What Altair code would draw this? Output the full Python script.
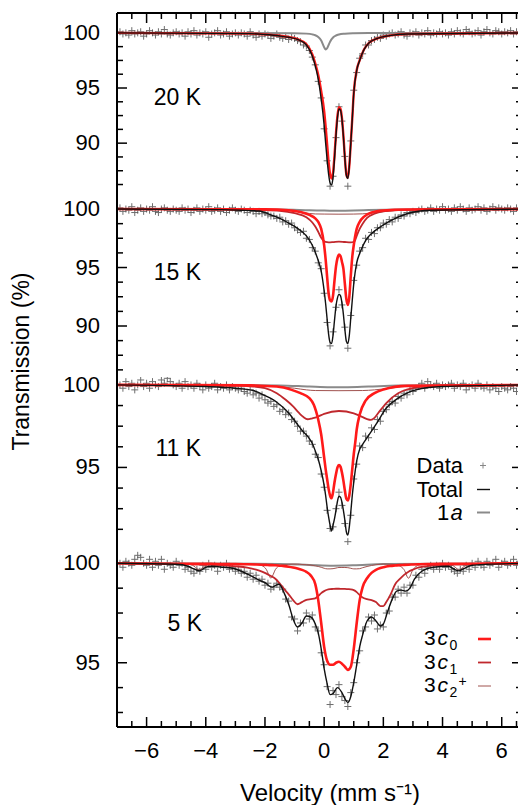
import altair as alt
import pandas as pd

FONT = "Liberation Sans"
W = 401
XDOM = [-7, 6.55]

# ---------------- data ----------------
DATA_V = [-6.9, -6.8, -6.7, -6.6, -6.5, -6.4, -6.3, -6.2, -6.1, -6.0,
          -5.9, -5.8, -5.7, -5.6, -5.5, -5.4, -5.3, -5.2, -5.1, -5.0,
          -4.9, -4.8, -4.7, -4.6, -4.5, -4.4, -4.3, -4.2, -4.1, -4.0,
          -3.9, -3.8, -3.7, -3.6, -3.5, -3.4, -3.3, -3.2, -3.1, -3.0,
          -2.9, -2.8, -2.7, -2.6, -2.5, -2.4, -2.3, -2.2, -2.1, -2.0,
          -1.9, -1.8, -1.7, -1.6, -1.5, -1.4, -1.3, -1.2, -1.1, -1.0,
          -0.9, -0.8, -0.7, -0.6, -0.5, -0.4, -0.3, -0.2, -0.1, 0.0,
          0.1, 0.2, 0.3, 0.4, 0.5, 0.6, 0.7, 0.8, 0.9,
          1.0, 1.1, 1.2, 1.3, 1.4, 1.5, 1.6, 1.7, 1.8, 1.9, 2.0,
          2.1, 2.2, 2.3, 2.4, 2.5, 2.6, 2.7, 2.8, 2.9, 3.0,
          3.1, 3.2, 3.3, 3.4, 3.5, 3.6, 3.7, 3.8, 3.9, 4.0,
          4.1, 4.2, 4.3, 4.4, 4.5, 4.6, 4.7, 4.8, 4.9, 5.0,
          5.1, 5.2, 5.3, 5.4, 5.5, 5.6, 5.7, 5.8, 5.9, 6.0,
          6.1, 6.2, 6.3, 6.4, 6.5, 6.6, 6.7, 6.8]

P1_DATA = [100.1, 99.9, 100.0, 99.8, 100.2, 99.9, 100.0, 100.1, 99.7, 99.9, 100.2, 100.0, 99.8, 100.1, 99.9, 100.3, 99.9, 99.8, 100.0, 100.1,
           99.9, 100.0, 99.7, 100.1, 99.9, 100.2, 99.8, 100.0, 99.9, 100.1, 99.6, 99.9, 100.0, 100.2, 99.8, 99.9, 100.1, 99.7, 99.9, 100.0,
           99.8, 100.0, 99.9, 99.7, 100.1, 99.8, 99.6, 99.9, 99.7, 99.9, 99.8, 99.5, 99.7, 99.9, 99.6, 99.5, 99.7, 99.4, 99.6, 99.5,
           99.3, 99.2, 98.9, 98.8, 98.4, 97.8, 97.1, 95.6, 94.1, 91.3,
           88.4, 86.1, 87.0, 90.5, 93.3, 92.0, 88.8, 86.1, 90.2,
           94.8, 96.4, 97.7, 98.1, 98.9, 98.9, 99.3, 99.4, 99.6, 99.5, 99.8,
           99.7, 99.9, 100.0, 99.8, 99.9, 100.1, 99.8, 99.7, 100.0, 99.9, 100.1, 99.8, 100.0, 99.9, 100.2, 99.8, 100.0, 99.9, 100.1, 99.9,
           100.0, 99.8, 100.1, 99.9, 100.2, 100.0, 99.9, 100.3, 100.1, 99.9, 100.0, 100.2, 99.8, 100.1, 100.3, 100.0, 99.9, 100.2, 100.1, 99.9,
           100.1, 100.0, 100.2, 99.9, 100.1, 100.0, 100.2, 99.9]

P2_DATA = [100.1, 99.8, 100.0, 99.9, 100.2, 99.7, 99.9, 100.1, 99.8, 100.0, 99.9, 100.2, 99.8, 99.7, 100.0, 100.1, 99.9, 99.8, 100.0, 99.9,
           99.8, 100.1, 99.9, 100.0, 99.7, 99.9, 100.1, 99.8, 100.0, 99.9, 100.2, 99.8, 99.9, 100.1, 99.8, 100.0, 99.7, 99.9, 100.1, 99.9,
           99.8, 100.0, 99.9, 99.7, 99.9, 99.8, 99.6, 99.8, 99.6, 99.7, 99.5, 99.4, 99.4, 99.2, 99.3, 98.9, 99.0, 98.7, 98.8, 98.4,
           98.2, 98.0, 98.1, 97.5, 97.4, 96.7, 96.4, 95.4, 94.9, 92.8,
           90.3, 88.3, 89.5, 91.6, 93.1, 91.8, 89.9, 88.1, 90.9,
           93.9, 95.2, 96.4, 96.7, 97.5, 97.4, 98.0, 97.9, 98.4, 98.4, 98.8,
           98.7, 99.1, 98.9, 99.3, 99.2, 99.5, 99.4, 99.7, 99.6, 99.8, 99.7, 99.9, 100.0, 99.8, 99.9, 100.1, 99.8, 100.0, 99.9, 100.2,
           99.9, 100.0, 99.8, 100.1, 99.9, 100.2, 100.0, 99.8, 100.1, 99.9, 100.0, 100.2, 99.9, 100.1, 99.8, 100.0, 100.2, 99.9, 100.1, 100.0,
           99.9, 100.1, 100.0, 99.8, 100.1, 99.9, 100.0, 100.2]

P3_DATA = [100.0, 99.8, 100.2, 99.9, 100.1, 99.7, 100.0, 100.3, 99.9, 100.1, 99.8, 100.2, 100.0, 99.9, 100.3, 100.1, 100.4, 100.2, 100.0, 99.9,
           100.1, 99.8, 100.2, 99.9, 100.0, 99.8, 100.1, 99.9, 99.7, 100.0, 99.8, 99.9, 100.1, 99.7, 99.9, 99.8, 100.0, 99.7, 99.9, 99.8,
           99.7, 99.8, 99.6, 99.5, 99.7, 99.4, 99.5, 99.2, 99.4, 99.1, 98.9, 99.0, 98.7, 98.8, 98.4, 98.5, 98.2, 98.3, 97.9, 97.8,
           97.5, 97.2, 97.2, 96.9, 96.6, 96.4, 95.8, 95.6, 94.6, 93.8,
           92.4, 91.3, 91.4, 92.5, 93.5, 92.7, 91.6, 90.5, 92.1,
           94.3, 95.2, 96.3, 96.2, 96.9, 96.8, 97.4, 97.3, 97.9, 97.8, 98.4,
           98.5, 98.8, 99.0, 98.9, 99.3, 99.2, 99.5, 99.4, 99.7, 99.6, 99.8, 99.9, 100.1, 99.8, 100.2, 100.0, 99.9, 100.1, 99.8, 100.0,
           99.9, 100.0, 100.1, 99.8, 100.0, 99.9, 100.1, 99.7, 99.9, 100.0, 99.8, 100.1, 99.9, 99.8, 100.0, 99.7, 99.9, 99.8, 99.6, 99.9,
           99.8, 99.7, 99.9, 99.8, 99.6, 99.9, 99.8, 99.7]

P4_DATA = [100.0, 99.8, 100.1, 100.0, 99.9, 100.2, 100.4, 100.3, 100.0, 99.9, 100.2, 99.8, 100.1, 99.9, 100.2, 99.7, 100.0, 99.9, 99.8, 100.1,
           99.9, 100.0, 99.7, 99.8, 99.6, 99.5, 99.7, 99.6, 99.9, 99.7, 100.0, 99.8, 99.9, 99.6, 99.9, 99.8, 100.0, 99.7, 99.8, 99.6,
           99.7, 99.5, 99.6, 99.3, 99.5, 99.2, 99.4, 99.1, 99.2, 98.9, 99.0, 98.7, 98.8, 99.0, 98.8, 98.7, 98.2, 98.1, 97.3, 97.2,
           96.6, 97.0, 97.0, 97.5, 97.2, 97.4, 96.8, 96.6, 95.5, 94.9,
           93.8, 92.9, 93.6, 93.4, 93.9, 93.3, 93.1, 92.8, 93.5,
           94.0, 95.0, 95.6, 96.6, 96.8, 97.3, 97.1, 97.4, 96.7, 96.9, 96.8,
           97.5, 97.6, 98.3, 98.3, 98.7, 98.5, 98.8, 98.5, 98.9, 98.9, 99.4, 99.3, 99.7, 99.5, 99.8, 99.9, 99.7, 99.9, 99.7, 100.0,
           99.8, 99.9, 99.7, 99.6, 99.5, 99.7, 99.6, 99.9, 99.7, 100.0, 99.8, 100.1, 99.9, 99.8, 100.1, 99.9, 100.0, 100.2, 99.8, 100.0,
           100.1, 99.9, 100.0, 100.2, 99.9, 100.1, 100.0, 99.8]

# ---- 20 K fitted curves ----
P1_V = [-7, -2.5, -2, -1.5, -1.2, -0.9, -0.6, -0.4, -0.3, -0.2, -0.1, 0, 0.05, 0.1, 0.15, 0.2, 0.25, 0.3, 0.35, 0.4,
        0.45, 0.5, 0.55, 0.6, 0.65, 0.7, 0.75, 0.8, 0.85, 0.9, 0.95, 1.0, 1.1, 1.2, 1.35, 1.5, 1.8, 2.2, 2.8, 7]
P1_TOT = [100, 99.93, 99.85, 99.72, 99.6, 99.4, 98.9, 97.9, 97.0, 95.8, 94.0, 91.6, 90.0, 88.5, 87.2, 86.4, 86.2, 86.9, 88.6, 90.7,
          92.3, 93.1, 93.0, 92.2, 90.6, 88.6, 87.1, 86.8, 87.9, 90.0, 92.2, 94.5, 96.6, 97.5, 98.5, 99.05, 99.5, 99.75, 99.9, 100]
P1_3C0 = [100, 99.93, 99.86, 99.74, 99.62, 99.43, 98.97, 98.04, 97.22, 96.18, 94.7, 92.9, 91.5, 89.9, 88.3, 87.2, 86.8, 87.3, 88.9, 90.9,
          92.5, 93.25, 93.12, 92.3, 90.7, 88.7, 87.17, 86.86, 87.95, 90.05, 92.24, 94.54, 96.63, 97.52, 98.51, 99.06, 99.5, 99.75, 99.9, 100]
P1_1A_V = [-7, -1.0, -0.6, -0.4, -0.3, -0.2, -0.1, 0, 0.05, 0.1, 0.15, 0.2, 0.3, 0.4, 0.5, 0.7, 1.0, 1.5, 7]
P1_1A = [100, 99.97, 99.93, 99.86, 99.78, 99.62, 99.3, 98.7, 98.5, 98.6, 98.9, 99.2, 99.58, 99.76, 99.85, 99.92, 99.96, 99.98, 100]

# ---- 15 K fitted curves ----
P2_TOT_V = [-7, -3.5, -2.8, -2.2, -1.8, -1.5, -1.2, -0.9, -0.6, -0.4, -0.3, -0.2, -0.1, 0, 0.05, 0.1, 0.15, 0.2, 0.25, 0.3,
            0.35, 0.4, 0.45, 0.5, 0.55, 0.6, 0.65, 0.7, 0.75, 0.8, 0.85, 0.9, 0.95, 1.0, 1.1, 1.2, 1.3, 1.4, 1.6, 1.8,
            2.2, 2.8, 3.6, 7]
P2_TOT = [100, 99.95, 99.9, 99.83, 99.5, 99.2, 98.8, 98.35, 97.7, 96.9, 96.3, 95.6, 94.7, 93.0, 91.9, 90.6, 89.3, 88.6, 88.5, 89.2,
          90.5, 91.7, 92.4, 92.7, 92.6, 92.0, 91.0, 89.7, 88.7, 88.5, 89.2, 90.7, 92.2, 93.6, 95.4, 96.2, 96.8, 97.3, 97.9, 98.3,
          98.95, 99.6, 99.9, 100]
P2_3C0_V = [-7, -2, -1.2, -0.8, -0.5, -0.3, -0.2, -0.1, 0, 0.05, 0.1, 0.15, 0.2, 0.25, 0.3, 0.35, 0.4, 0.45, 0.5, 0.55,
            0.6, 0.65, 0.7, 0.75, 0.8, 0.85, 0.9, 0.95, 1.0, 1.1, 1.2, 1.35, 1.6, 2.0, 2.8, 7]
P2_3C0 = [100, 99.97, 99.9, 99.75, 99.5, 99.2, 98.9, 98.3, 96.9, 95.7, 94.2, 92.8, 92.2, 92.1, 92.6, 93.9, 95.1, 95.8, 96.1, 96.0,
          95.5, 94.9, 93.6, 92.3, 91.8, 92.5, 94.3, 95.9, 96.9, 98.3, 98.9, 99.35, 99.7, 99.88, 99.96, 100]
P2_3C1_V = [-7, -3, -2.2, -1.5, -1.0, -0.6, -0.4, -0.3, -0.2, -0.1, 0, 0.1, 0.2, 0.3, 0.5, 0.7, 0.9, 1.0, 1.05, 1.1,
            1.2, 1.3, 1.45, 1.7, 2.0, 2.5, 3.2, 4, 7]
P2_3C1 = [100, 99.97, 99.92, 99.85, 99.65, 99.3, 98.85, 98.5, 98.05, 97.55, 97.25, 97.17, 97.15, 97.17, 97.22, 97.18, 97.15, 97.2, 97.35, 97.7,
          98.3, 98.75, 99.25, 99.6, 99.8, 99.9, 99.96, 99.99, 100]
P2_3C2_V = [-7, -2.5, -1.5, -1.0, -0.7, -0.5, -0.3, 0, 0.5, 1.0, 1.3, 1.5, 1.8, 2.2, 3.0, 4.0, 7]
P2_3C2 = [100, 99.98, 99.93, 99.83, 99.7, 99.62, 99.58, 99.57, 99.56, 99.57, 99.59, 99.63, 99.72, 99.84, 99.94, 99.98, 100]
P2_1A_V = [-7, -1.5, -0.5, 0.0, 0.5, 1.0, 1.5, 2.5, 7]
P2_1A = [100, 99.96, 99.9, 99.87, 99.86, 99.88, 99.92, 99.97, 100]

# ---- 11 K fitted curves ----
P3_TOT_V = [-7, -4.0, -3.0, -2.4, -2.0, -1.6, -1.2, -0.9, -0.7, -0.5, -0.4, -0.3, -0.2, -0.1, 0, 0.05, 0.1, 0.15, 0.2, 0.25,
            0.3, 0.35, 0.4, 0.45, 0.5, 0.55, 0.6, 0.65, 0.7, 0.75, 0.8, 0.85, 0.9, 0.95, 1.0, 1.1, 1.2, 1.3, 1.45, 1.6,
            1.8, 2.1, 2.5, 3.1, 4.0, 7]
P3_TOT = [100, 99.9, 99.8, 99.66, 99.35, 98.95, 98.3, 97.6, 97.15, 96.75, 96.45, 96.0, 95.5, 94.8, 93.9, 93.3, 92.6, 92.0, 91.5, 91.15,
          91.5, 91.9, 92.4, 92.95, 93.25, 93.2, 92.9, 92.4, 91.8, 91.1, 90.9, 91.4, 92.3, 93.3, 94.1, 95.4, 96.1, 96.4, 96.8, 97.2,
          97.75, 98.6, 99.2, 99.7, 99.9, 100]
P3_3C0_V = [-7, -2.5, -1.6, -1.1, -0.8, -0.5, -0.35, -0.2, -0.1, 0, 0.05, 0.1, 0.15, 0.2, 0.25, 0.3, 0.35, 0.4, 0.45, 0.5,
            0.55, 0.6, 0.65, 0.7, 0.75, 0.8, 0.85, 0.9, 0.95, 1.0, 1.05, 1.1, 1.2, 1.4, 1.7, 2.0, 2.8, 7]
P3_3C0 = [100, 99.97, 99.9, 99.7, 99.5, 99.2, 98.8, 97.9, 97.0, 95.6, 94.9, 94.3, 93.7, 93.3, 93.13, 93.5, 94.1, 94.6, 95.0, 95.15,
          95.05, 94.7, 94.2, 93.6, 93.1, 93.0, 93.3, 94.0, 94.9, 95.8, 96.5, 97.3, 98.2, 99.05, 99.5, 99.72, 99.94, 100]
P3_3C1_V = [-7, -3.5, -2.5, -2.0, -1.6, -1.3, -1.05, -0.85, -0.7, -0.56, -0.4, -0.25, 0, 0.5, 1.0, 1.3, 1.45, 1.58, 1.7, 1.85,
            2.1, 2.5, 3.2, 4.0, 7]
P3_3C1 = [100, 99.97, 99.92, 99.8, 99.5, 99.1, 98.7, 98.3, 98.05, 97.92, 97.98, 98.05, 98.25, 98.42, 98.28, 98.05, 97.93, 97.88, 98.0, 98.35,
          98.9, 99.5, 99.86, 99.96, 100]
P3_3C2_V = [-7, -2.5, -1.5, -1.0, -0.6, -0.3, 0.5, 1.3, 1.7, 2.2, 2.8, 3.5, 7]
P3_3C2 = [100, 99.98, 99.9, 99.8, 99.7, 99.66, 99.65, 99.66, 99.7, 99.8, 99.92, 99.98, 100]
P3_1A_V = [-7, -1.5, -0.5, 0.2, 0.8, 1.5, 2.5, 7]
P3_1A = [100, 99.97, 99.9, 99.86, 99.86, 99.9, 99.96, 100]

# ---- 5 K fitted curves ----
P4_TOT_V = [-7, -5.0, -4.6, -4.4, -4.22, -4.0, -3.8, -3.4, -3.1, -2.8, -2.42, -2.2, -1.97, -1.85, -1.75, -1.65, -1.52, -1.35, -1.18, -1.05,
            -0.9, -0.75, -0.6, -0.45, -0.3, -0.2, -0.1, 0, 0.1, 0.2, 0.3, 0.45, 0.6, 0.7, 0.8, 0.9, 1.0, 1.1, 1.2, 1.3,
            1.45, 1.6, 1.75, 1.9, 2.0, 2.15, 2.3, 2.45, 2.6, 2.75, 2.9, 3.05, 3.3, 3.7, 4.2, 4.4, 4.56, 4.7, 5.0, 5.5, 7]
P4_TOT = [100, 99.95, 99.85, 99.72, 99.62, 99.8, 99.85, 99.8, 99.75, 99.6, 99.33, 99.15, 99.0, 98.85, 98.8, 98.88, 98.95, 98.5, 97.85, 97.2,
          96.8, 97.0, 97.35, 97.3, 96.95, 96.5, 95.7, 94.7, 93.95, 93.4, 93.45, 93.75, 93.5, 93.2, 93.0, 93.3, 94.0, 94.9, 95.8, 96.4,
          97.1, 97.3, 97.1, 96.85, 96.95, 97.6, 98.2, 98.6, 98.65, 98.6, 98.75, 99.2, 99.6, 99.8, 99.85, 99.7, 99.62, 99.72, 99.9, 99.95, 100]
P4_G = [-7, -5.0, -4.6, -4.4, -4.3, -4.22, -4.1, -4.0, -3.8, -3.4,
        -3.0, -2.6, -2.3, -2.1, -1.95, -1.85, -1.8, -1.75, -1.65, -1.5,
        -1.35, -1.2, -1.05, -0.9, -0.75, -0.6, -0.45, -0.3, -0.2, -0.1,
        0, 0.1, 0.2, 0.3, 0.4, 0.5, 0.6, 0.7, 0.8, 0.9,
        1.0, 1.1, 1.2, 1.3, 1.45, 1.6, 1.75, 1.9, 2.0, 2.1,
        2.25, 2.4, 2.55, 2.7, 2.85, 3.0, 3.2, 3.5, 3.9, 4.2,
        4.4, 4.5, 4.56, 4.65, 4.8, 5.1, 5.6, 7]
P4_3C2 = [100, 99.99, 99.95, 99.86, 99.73, 99.66, 99.79, 99.89, 99.96, 99.98,
          99.99, 99.98, 99.95, 99.88, 99.68, 99.35, 99.25, 99.35, 99.68, 99.88,
          99.94, 99.95, 99.96, 99.96, 99.94, 99.93, 99.91, 99.87, 99.84, 99.8,
          99.75, 99.72, 99.72, 99.73, 99.76, 99.79, 99.79, 99.79, 99.78, 99.75,
          99.72, 99.72, 99.73, 99.78, 99.84, 99.89, 99.93, 99.95, 99.96, 99.96,
          99.95, 99.93, 99.87, 99.68, 99.25, 99.68, 99.91, 99.97, 99.98, 99.95,
          99.84, 99.71, 99.66, 99.75, 99.9, 99.97, 99.99, 100]
P4_3C1 = [100, 99.97, 99.96, 99.95, 99.95, 99.95, 99.94, 99.94, 99.93, 99.9,
          99.85, 99.78, 99.68, 99.58, 99.48, 99.4, 99.36, 99.32, 99.22, 98.98,
          98.7, 98.44, 98.15, 97.94, 98.05, 98.16, 98.2, 98.24, 98.35, 98.5,
          98.6, 98.67, 98.7, 98.71, 98.72, 98.72, 98.71, 98.71, 98.7, 98.69,
          98.65, 98.55, 98.4, 98.28, 98.2, 98.15, 98.05, 97.85, 97.85, 98.05,
          98.45, 98.95, 99.2, 99.42, 99.58, 99.68, 99.8, 99.86, 99.9, 99.92,
          99.93, 99.94, 99.94, 99.94, 99.95, 99.96, 99.98, 100]
P4_3C0 = [100, 99.98, 99.98, 99.97, 99.97, 99.97, 99.97, 99.97, 99.97, 99.96,
          99.96, 99.95, 99.94, 99.93, 99.92, 99.91, 99.91, 99.91, 99.9, 99.88,
          99.86, 99.83, 99.79, 99.74, 99.67, 99.57, 99.38, 98.95, 98.15, 97.0,
          95.8, 95.1, 94.9, 94.9, 95.0, 95.05, 94.95, 94.8, 94.64, 94.8,
          95.7, 97.0, 98.15, 98.8, 99.25, 99.52, 99.67, 99.76, 99.8, 99.84,
          99.87, 99.89, 99.91, 99.92, 99.93, 99.94, 99.95, 99.96, 99.97, 99.97,
          99.98, 99.98, 99.98, 99.98, 99.98, 99.98, 99.99, 100]
P4_1A_V = [-7, -1.5, -0.5, 0.3, 1.0, 2.0, 7]
P4_1A = [100, 99.97, 99.92, 99.88, 99.9, 99.96, 100]

# tick values
X_MAJOR = [-6, -4, -2, 0, 2, 4, 6]
X_MINOR = [-6.5, -5.5, -5, -4.5, -3.5, -3, -2.5, -1.5, -1, -0.5, 0.5, 1, 1.5, 2.5, 3, 3.5, 4.5, 5, 5.5, 6.5]
Y_MAJOR_A = [100, 95, 90]
Y_MINOR_A = [98.75, 97.5, 96.25, 93.75, 92.5, 91.25, 88.75, 87.5, 86.25]
Y_MAJOR_B = [100, 95]
Y_MINOR_3 = [98.75, 97.5, 96.25, 93.75, 92.5, 91.25]
Y_MINOR_4 = [98.75, 97.5, 96.25, 93.75, 92.5]

for arr in (P1_DATA, P2_DATA, P3_DATA, P4_DATA):
    assert len(arr) == len(DATA_V), len(arr)

# ---------------- styling ----------------
C_DATA = "#555555"
C_TOT = "#111111"
C_1A = "#8a8a8a"
C_3C0 = "#ff1a1a"
C_3C1 = "#c0282d"
C_3C2 = "#a0524f"
PLUS = "M-1,0L1,0M0,-1L0,1"
ONE = pd.DataFrame({"k": [0]})


def xs():
    return alt.X("v:Q", scale=alt.Scale(domain=XDOM, nice=False, zero=False), axis=None)


def ys(dom):
    return alt.Y("t:Q", scale=alt.Scale(domain=dom, nice=False, zero=False), axis=None)


def txt(s, x, y, size=22, align="left", style="normal", angle=0):
    return alt.Chart(ONE).mark_text(
        text=s, align=align, baseline="middle", fontSize=size, font=FONT,
        fontStyle=style, color="black", angle=angle
    ).encode(x=alt.value(x), y=alt.value(y))


def seg(x1, x2, y1, y2, color="black", width=2):
    return alt.Chart(ONE).mark_rule(color=color, strokeWidth=width).encode(
        x=alt.value(x1), x2=alt.value(x2), y=alt.value(y1), y2=alt.value(y2))


def curve(v, t, dom, color, width):
    assert len(v) == len(t), (len(v), len(t))
    return alt.Chart(pd.DataFrame({"v": v, "t": t})).mark_line(
        color=color, strokeWidth=width, clip=True, interpolate="monotone"
    ).encode(x=xs(), y=ys(dom))


def yticks(dom, vals, x1, x2):
    return alt.Chart(pd.DataFrame({"t": vals})).mark_rule(color="black", strokeWidth=1.5).encode(
        y=ys(dom), x=alt.value(x1), x2=alt.value(x2))


def xticks(vals, y1, y2):
    return alt.Chart(pd.DataFrame({"v": vals})).mark_rule(color="black", strokeWidth=1.5).encode(
        x=xs(), y=alt.value(y1), y2=alt.value(y2))


def panel(dom, H, data_t, curves, ymaj, ymin, extras):
    L = [
        yticks(dom, ymaj, 0, 10), yticks(dom, ymin, 0, 6),
        yticks(dom, ymaj, W - 6, W), yticks(dom, ymin, W - 2, W),
        alt.Chart(pd.DataFrame({"t": ymaj})).mark_text(
            align="right", baseline="middle", fontSize=22, font=FONT, color="black"
        ).encode(y=ys(dom), x=alt.value(-17), text=alt.Text("t:Q", format="d")),
        alt.Chart(pd.DataFrame({"v": DATA_V, "t": data_t})).mark_point(
            shape=PLUS, size=49, filled=False, strokeWidth=1, color=C_DATA, opacity=0.85, clip=True
        ).encode(x=xs(), y=ys(dom)),
    ]
    for v, t, c, w in curves:
        L.append(curve(v, t, dom, c, w))
    L.append(seg(0, 0, 0, H))  # left frame
    L += extras
    return alt.layer(*L).properties(width=W, height=H)


# ---------------- panels ----------------
D1, H1 = [85.3, 101.8], 182
D2, H2 = [85.64, 101.2], 182
D3, H3 = [90.3, 100.48], 168
D4, H4 = [91.77, 100.92], 182

anchor = alt.Chart(ONE).mark_rule(strokeOpacity=0, strokeWidth=1).encode(
    x=alt.value(-109), x2=alt.value(-109), y=alt.value(-5), y2=alt.value(0))

p1 = panel(D1, H1, P1_DATA,
           [(P1_1A_V, P1_1A, C_1A, 2), (P1_V, P1_3C0, C_3C0, 2.4), (P1_V, P1_TOT, C_TOT, 1.4)],
           Y_MAJOR_A, Y_MINOR_A,
           [xticks(X_MAJOR, 0, 10), xticks(X_MINOR, 0, 6), seg(0, W, 0, 0),
            txt("20 K", 84, 85.3, 23, "right"), anchor])

p2 = panel(D2, H2, P2_DATA,
           [(P2_1A_V, P2_1A, C_1A, 2), (P2_3C2_V, P2_3C2, C_3C2, 1),
            (P2_3C1_V, P2_3C1, C_3C1, 1.8), (P2_3C0_V, P2_3C0, C_3C0, 2.6),
            (P2_TOT_V, P2_TOT, C_TOT, 1.4)],
           Y_MAJOR_A, Y_MINOR_A,
           [txt("15 K", 84, 78.3, 23, "right"),
            txt("Transmission (%)", -95, 166.5, 23, "center", angle=270)])

p3 = panel(D3, H3, P3_DATA,
           [(P3_1A_V, P3_1A, C_1A, 2), (P3_3C2_V, P3_3C2, C_3C2, 1),
            (P3_3C1_V, P3_3C1, C_3C1, 1.8), (P3_3C0_V, P3_3C0, C_3C0, 2.6),
            (P3_TOT_V, P3_TOT, C_TOT, 1.4)],
           Y_MAJOR_B, Y_MINOR_3,
           [txt("11 K", 84, 71.5, 23, "right"),
            txt("Data", 346, 88.5, 22, "right"),
            alt.Chart(ONE).mark_point(shape=PLUS, size=36, filled=False, strokeWidth=1,
                                      color=C_DATA).encode(x=alt.value(366), y=alt.value(88.5)),
            txt("Total", 346, 112.5, 22, "right"),
            seg(360, 373, 112.5, 112.5, C_TOT, 1.4),
            txt("1", 320, 135.5, 22),
            txt("a", 333.5, 135.5, 22, style="italic"),
            seg(360, 373, 135.5, 135.5, C_1A, 2)])

legend4 = []
for cy, sub, sup, col, wd in ((94, "0", None, C_3C0, 2.6), (117.5, "1", None, C_3C1, 1.8),
                              (141, "2", "+", C_3C2, 1.0)):
    legend4 += [txt("3", 307, cy, 21), txt("c", 320.5, cy, 21, style="italic"),
                txt(sub, 332.5, cy + 7, 14), seg(361, 374, cy, cy, col, wd)]
    if sup:
        legend4.append(txt(sup, 341.5, cy - 4.5, 14))

p4 = panel(D4, H4, P4_DATA,
           [(P4_1A_V, P4_1A, C_1A, 2), (P4_G, P4_3C2, C_3C2, 1),
            (P4_G, P4_3C1, C_3C1, 1.8), (P4_G, P4_3C0, C_3C0, 2.6),
            (P4_TOT_V, P4_TOT, C_TOT, 1.4)],
           Y_MAJOR_B, Y_MINOR_4,
           [xticks(X_MAJOR, H4, H4 - 10), xticks(X_MINOR, H4, H4 - 6), seg(0, W, H4, H4),
            alt.Chart(pd.DataFrame({"v": X_MAJOR})).mark_text(
                align="center", baseline="middle", fontSize=22, font=FONT, color="black"
            ).encode(x=xs(), y=alt.value(H4 + 23.5), text=alt.Text("v:Q", format="d")),
            txt("Velocity (mm s\u207b\u00b9)", 213, H4 + 67, 24, "center"),
            txt("5 K", 85, 79, 23, "right")] + legend4)

chart = alt.vconcat(p1, p2, p3, p4, spacing=0, bounds="flush").resolve_scale(
    x="independent", y="independent"
).properties(padding=0).configure_view(stroke="transparent", strokeWidth=0)

chart.save("out.html", embed_options={"renderer": "svg", "actions": False})
